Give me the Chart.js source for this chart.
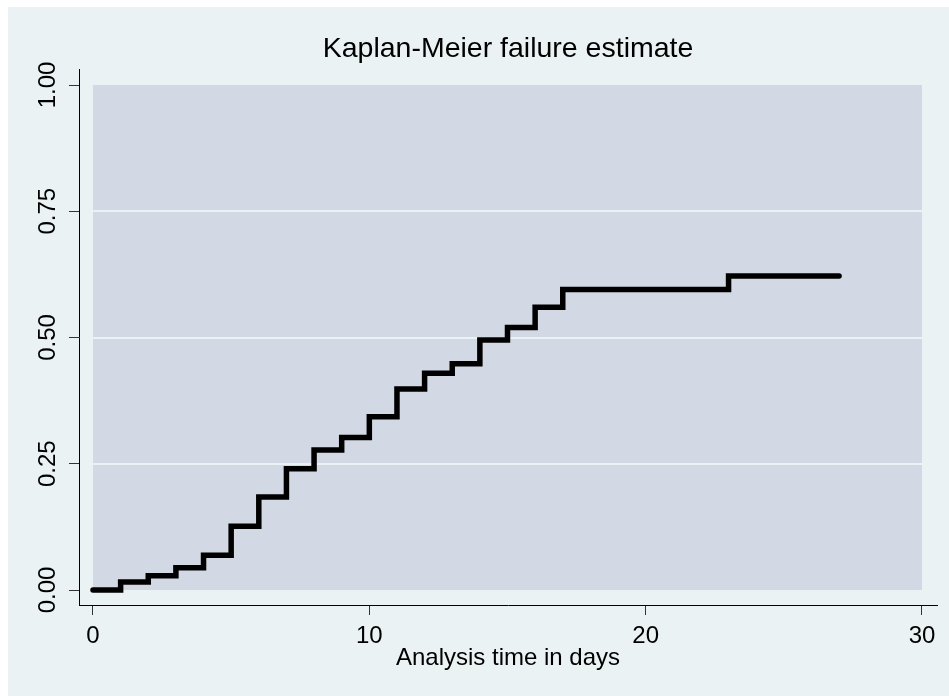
<!DOCTYPE html>
<html>
<head>
<meta charset="utf-8">
<script src="https://cdn.jsdelivr.net/npm/chart.js@4.4.1/dist/chart.umd.min.js"></script>
<style>
    html, body { margin: 0; padding: 0; background: #ffffff; overflow: hidden; }
    .wrap { position: absolute; left: 8px; top: 7px; width: 941px; height: 689px; }
</style>
</head>
<body>
<div class="wrap"><canvas id="kmChart"></canvas></div>
<script>
// analysis time (days) and Kaplan-Meier failure estimate at each step
const times = [0, 1, 2, 3, 4, 5, 6, 7, 8, 9, 10, 11, 12, 13, 14, 15, 16, 17, 23, 27]
const failure = [0, 0.016, 0.028, 0.044, 0.069, 0.126, 0.184, 0.240, 0.277, 0.302,
    0.343, 0.398, 0.429, 0.448, 0.495, 0.520, 0.560, 0.595, 0.622, 0.622]

const xTicks = [0, 10, 20, 30]
const yTicks = [0, 0.25, 0.5, 0.75, 1]
const titleText = 'Kaplan-Meier failure estimate'
const xTitle = 'Analysis time in days'

const bgColor = '#eaf2f3'
const plotColor = '#d3d9e4'
const fontFamily = "'Liberation Sans', Arial, sans-serif"

Chart.defaults.font.family = fontFamily
Chart.defaults.color = '#000000'

// fills the outer area and the stata-like plot region (0..30, 0..1) with its grid lines
const plotRegion = {
    id: 'plotRegion',
    beforeDraw(chart) {
        const ctx = chart.ctx
        ctx.save()
        ctx.fillStyle = bgColor
        ctx.fillRect(0, 0, chart.width, chart.height)
        ctx.restore()
    },
    beforeDatasetsDraw(chart) {
        const {ctx, scales: {x, y}} = chart
        const left = x.getPixelForValue(xTicks[0])
        const right = x.getPixelForValue(xTicks[xTicks.length - 1])
        const top = y.getPixelForValue(yTicks[yTicks.length - 1])
        const bottom = y.getPixelForValue(yTicks[0])
        ctx.save()
        ctx.fillStyle = plotColor
        ctx.fillRect(left, top, right - left, bottom - top)
        ctx.strokeStyle = bgColor
        ctx.lineWidth = 2
        yTicks.slice(1, -1).forEach(v => {
            const py = Math.round(y.getPixelForValue(v))
            ctx.beginPath()
            ctx.moveTo(left, py)
            ctx.lineTo(right, py)
            ctx.stroke()
        })
        ctx.restore()
    }
}

const points = times.map((t, i) => ({x: t, y: failure[i]}))

new Chart(document.getElementById('kmChart'), {
    type: 'line',
    data: {
        datasets: [{
            data: points,
            stepped: 'before',
            borderColor: '#000000',
            borderWidth: 5.5,
            borderCapStyle: 'round',
            borderJoinStyle: 'miter',
            pointRadius: 0,
            fill: false
        }]
    },
    options: {
        responsive: true,
        maintainAspectRatio: false,
        animation: false,
        layout: {padding: {left: 0, right: 12, top: 0, bottom: 0}},
        plugins: {
            legend: {display: false},
            tooltip: {enabled: false},
            title: {
                display: true,
                text: titleText,
                fullSize: false,
                color: '#000000',
                font: {size: 28.5, weight: 'normal'},
                padding: {top: 25.5, bottom: 2.3}
            }
        },
        scales: {
            x: {
                type: 'linear',
                min: -0.5066,
                max: 30.543,
                afterBuildTicks: s => { s.ticks = xTicks.map(v => ({value: v})) },
                afterFit: s => { s.height = 91 },
                grid: {drawOnChartArea: false, drawTicks: true, tickLength: 10, color: '#333333', lineWidth: 1},
                border: {display: true, color: '#000000', width: 1},
                ticks: {font: {size: 24}, padding: 7, color: '#000000', maxRotation: 0, callback: v => String(v)},
                title: {display: true, text: xTitle, font: {size: 24}, color: '#000000', padding: {top: 0, bottom: 23}}
            },
            y: {
                type: 'linear',
                min: -0.0297,
                max: 1.0317,
                afterBuildTicks: s => { s.ticks = yTicks.map(v => ({value: v})) },
                afterFit: s => { s.width = 71 },
                grid: {drawOnChartArea: false, drawTicks: true, tickLength: 10, color: '#333333', lineWidth: 1},
                border: {display: true, color: '#000000', width: 1},
                ticks: {
                    font: {size: 24},
                    color: '#000000',
                    minRotation: 90,
                    maxRotation: 90,
                    crossAlign: 'center',
                    padding: -2.5,
                    callback: v => v.toFixed(2)
                }
            }
        }
    },
    plugins: [plotRegion]
})
</script>
</body>
</html>
